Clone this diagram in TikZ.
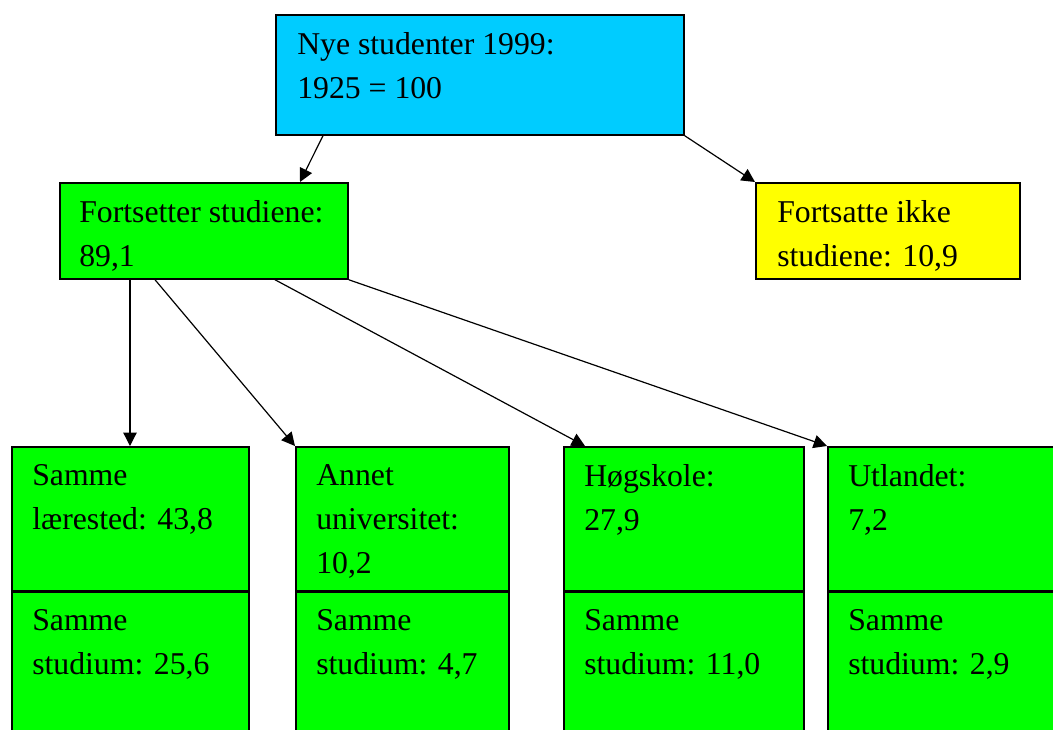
\documentclass[tikz,border=0pt]{standalone}
\usepackage{fontspec}
\setmainfont{Liberation Serif}
\usetikzlibrary{arrows.meta}
\definecolor{nyeBlue}{RGB}{0, 204, 255}
\definecolor{boxGreen}{RGB}{0, 255, 0}
\definecolor{boxYellow}{RGB}{255, 255, 0}

\begin{document}
\begin{tikzpicture}[x=0.75pt, y=-0.75pt]
                    \tikzstyle{box} = [draw=black, line width=1.3pt, anchor=north west, inner sep=0pt]
                    \tikzstyle{txt} = [anchor=north west, inner sep=0pt, align=left, font=\fontsize{23.8}{33}\selectfont, execute at begin node=\strut]
                    \tikzstyle{arr} = [-{Triangle[length=10pt, width=10pt]}, line width=0.9pt]
                    \useasboundingbox (0,0) rectangle (1053,729);
                    \clip (0,0) rectangle (1053,729);
                    \node[box, fill=nyeBlue, minimum width=306pt, minimum height=90pt] (nye) at (275,14) {};
                    \node[box, fill=boxGreen, minimum width=216pt, minimum height=72pt] (fort) at (59,182) {};
                    \node[box, fill=boxYellow, minimum width=198pt, minimum height=72pt] (ikke) at (755,182) {};
                    \node[box, fill=boxGreen, minimum width=177.75pt, minimum height=108pt] (same) at (11,446) {};
                    \node[box, fill=boxGreen, minimum width=159.75pt, minimum height=108pt] (annet) at (295,446) {};
                    \node[box, fill=boxGreen, minimum width=180pt, minimum height=108pt] (hogsk) at (563,446) {};
                    \node[box, fill=boxGreen, minimum width=180pt, minimum height=108pt] (utl) at (827,446) {};
                    \node[box, fill=boxGreen, minimum width=177.75pt, minimum height=115pt] (sameS) at (same.south west) {};
                    \node[box, fill=boxGreen, minimum width=159.75pt, minimum height=115pt] (annetS) at (annet.south west) {};
                    \node[box, fill=boxGreen, minimum width=180pt, minimum height=115pt] (hogskS) at (hogsk.south west) {};
                    \node[box, fill=boxGreen, minimum width=180pt, minimum height=115pt] (utlS) at (utl.south west) {};
                    \node[txt] (nyeT) at ([shift={(22,18)}]nye.north west) {Nye studenter 1999:\\1925 = 100};
                    \node[txt] (fortT) at ([shift={(20,18)}]fort.north west) {Fortsetter studiene:\\89,1};
                    \node[txt] (ikkeT) at ([shift={(22,18)}]ikke.north west) {Fortsatte ikke\\studiene: 10,9};
                    \node[txt] (sameT) at ([shift={(21,18)}]same.north west) {Samme\\lærested: 43,8};
                    \node[txt] (annetT) at ([shift={(21,18)}]annet.north west) {Annet\\universitet:\\10,2};
                    \node[txt] (hogskT) at ([shift={(21,18)}]hogsk.north west) {Høgskole:\\27,9};
                    \node[txt] (utlT) at ([shift={(21,18)}]utl.north west) {Utlandet:\\7,2};
                    \node[txt] (sameST) at ([shift={(21,17)}]sameS.north west) {Samme\\studium: 25,6};
                    \node[txt] (annetST) at ([shift={(21,17)}]annetS.north west) {Samme\\studium: 4,7};
                    \node[txt] (hogskST) at ([shift={(21,17)}]hogskS.north west) {Samme\\studium: 11,0};
                    \node[txt] (utlST) at ([shift={(21,17)}]utlS.north west) {Samme\\studium: 2,9};
                    \draw[arr] ([shift={(48,0)}]nye.south west) -- ([shift={(241,0)}]fort.north west);
                    \draw[arr] (nye.south east) -- (ikke.north west);
                    \draw[arr] ([shift={(71,0)}]fort.south west) -- ([shift={(119,0)}]same.north west);
                    \draw[arr] ([shift={(96,0)}]fort.south west) -- (annet.north west);
                    \draw[arr] ([shift={(216,0)}]fort.south west) -- ([shift={(22,0)}]hogsk.north west);
                    \draw[arr] (fort.south east) -- (utl.north west);
                \end{tikzpicture}
\end{document}
